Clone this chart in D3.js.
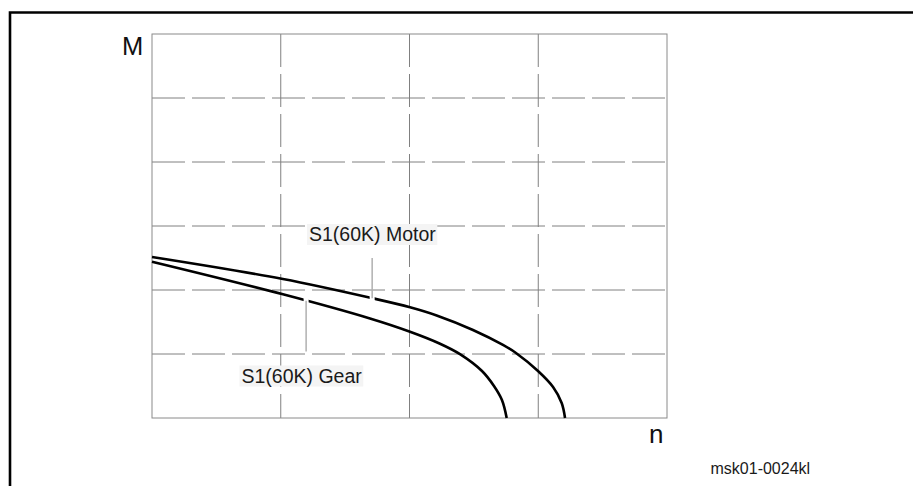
<!DOCTYPE html>
<html><head><meta charset="utf-8">
<script src="https://cdn.jsdelivr.net/npm/d3@7"></script>
<style>html,body{margin:0;padding:0;background:#fff;}svg{display:block;}</style>
</head><body>
<svg id="c" width="913" height="486"></svg>
<script>
// grid divisions (no numeric labels in the original)
const xGrid = [0, 1, 2, 3, 4];
const yGrid = [0, 1, 2, 3, 4, 5, 6];
// S1(60K) Motor curve: speed n (grid units), torque M (grid units)
const motorN = [0, 1.017, 1.717, 2.004, 2.211, 2.493, 2.726, 2.827, 2.998, 3.115, 3.182, 3.208];
const motorM = [2.516, 2.172, 1.869, 1.730, 1.602, 1.375, 1.141, 1.016, 0.734, 0.484, 0.234, 0];
// S1(60K) Gear curve
const gearN = [0, 1.017, 1.693, 2.004, 2.237, 2.392, 2.563, 2.656, 2.718, 2.755];
const gearM = [2.442, 1.933, 1.555, 1.348, 1.161, 0.998, 0.734, 0.5, 0.281, 0];
const labels = ["S1(60K) Motor", "S1(60K) Gear"];
const axisLabels = ["M", "n"];
const figId = "msk01-0024kl";
// leader positions (grid units)
const motorLeaderN = 1.71, motorLeaderTopM = 2.5;
const gearLeaderN = 1.197, gearLeaderBotM = 1.04;

const svg = d3.select("#c");
const L = 152, T = 34, R = 667, B = 418;
const x = d3.scaleLinear().domain([0, 4]).range([L, R]);
const y = d3.scaleLinear().domain([0, 6]).range([B, T]);

// outer frame (top and left only)
svg.append("path").attr("d", "M10,486 V12.5 H913")
  .attr("fill", "none").attr("stroke", "#000").attr("stroke-width", 2.6);

// grid
const g = svg.append("g");
g.selectAll(".vg").data(xGrid.slice(1, -1)).join("line")
  .attr("x1", d => x(d)).attr("x2", d => x(d))
  .attr("y1", y(6)).attr("y2", y(0))
  .attr("stroke", "#808080").attr("stroke-width", 1).attr("stroke-dasharray", "33,7");
g.selectAll(".hg").data(yGrid.slice(1, -1)).join("line")
  .attr("x1", x(0)).attr("x2", x(4))
  .attr("y1", d => y(d)).attr("y2", d => y(d))
  .attr("stroke", "#808080").attr("stroke-width", 1).attr("stroke-dasharray", "33,7");
g.append("rect").attr("x", x(0)).attr("y", y(6))
  .attr("width", x(4) - x(0)).attr("height", y(0) - y(6))
  .attr("fill", "none").attr("stroke", "#8a8a8a").attr("stroke-width", 1);

// curves
const line = d3.line().x(d => x(d[0])).y(d => y(d[1])).curve(d3.curveCatmullRom.alpha(0.5));
const motor = motorN.map((n, i) => [n, motorM[i]]);
const gear = gearN.map((n, i) => [n, gearM[i]]);
[motor, gear].forEach(s => svg.append("path").attr("d", line(s))
  .attr("fill", "none").attr("stroke", "#000").attr("stroke-width", 2.6).attr("stroke-linecap", "butt"));

// helper: M value on a curve at n
function at(n, ns, ms) {
  for (let i = 1; i < ns.length; i++) if (n <= ns[i]) {
    const t = (n - ns[i-1]) / (ns[i] - ns[i-1]); return ms[i-1] + t * (ms[i] - ms[i-1]);
  }
  return ms[ms.length - 1];
}
// leaders with white halo cutting the curve
const mY = at(motorLeaderN, motorN, motorM);
const gY = at(gearLeaderN, gearN, gearM);
const leaders = [
  {n: motorLeaderN, a: motorLeaderTopM, b: mY, cut: mY},
  {n: gearLeaderN, a: gearLeaderBotM, b: gY, cut: gY}
];
leaders.forEach(l => {
  svg.append("line").attr("x1", x(l.n)).attr("x2", x(l.n))
    .attr("y1", y(l.cut) - 3).attr("y2", y(l.cut) + 3)
    .attr("stroke", "#fff").attr("stroke-width", 5);
  svg.append("line").attr("x1", x(l.n)).attr("x2", x(l.n))
    .attr("y1", y(l.a)).attr("y2", y(l.b))
    .attr("stroke", "#b0b0b0").attr("stroke-width", 1.5);
});

// labels with light background
function boxLabel(text, tx, ty) {
  const t = svg.append("text").attr("x", tx).attr("y", ty)
    .attr("font-family", "Liberation Sans, Arial, sans-serif").attr("font-size", 19.5)
    .attr("fill", "#1a1a1a").text(text);
  const bb = t.node().getBBox();
  svg.insert("rect", () => t.node()).attr("x", bb.x - 2).attr("y", bb.y + 1)
    .attr("width", bb.width + 3).attr("height", bb.height - 1).attr("fill", "#f4f4f4");
}
boxLabel(labels[0], 309, 241);
boxLabel(labels[1], 241.5, 382.5);

svg.append("text").attr("x", 122).attr("y", 54.5)
  .attr("font-family", "Liberation Sans, Arial, sans-serif").attr("font-size", 25.5)
  .attr("fill", "#111").text(axisLabels[0]);
svg.append("text").attr("x", 649).attr("y", 443)
  .attr("font-family", "Liberation Sans, Arial, sans-serif").attr("font-size", 26)
  .attr("fill", "#111").text(axisLabels[1]);
svg.append("text").attr("x", 710.5).attr("y", 473.5)
  .attr("font-family", "Liberation Sans, Arial, sans-serif").attr("font-size", 16)
  .attr("fill", "#1a1a1a").text(figId);
</script>
</body></html>
